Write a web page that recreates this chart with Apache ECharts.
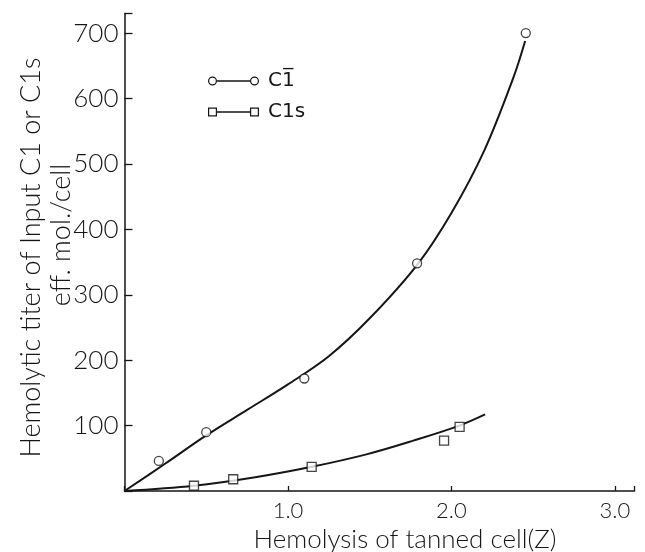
<!DOCTYPE html>
<html>
<head>
<meta charset="utf-8">
<script src="https://cdn.jsdelivr.net/npm/echarts@6/dist/echarts.min.js"></script>
<style>
  html, body { margin: 0; padding: 0; background: #fff; }
  #chart { width: 645px; height: 552px; }
</style>
</head>
<body>
<div id="chart"></div>
<script>
// Measured hemolytic titres, C1-bar (circles)
const c1ObsX = [0.21, 0.50, 1.10, 1.79, 2.455];
const c1ObsY = [46, 90, 172, 348, 700];

// Measured hemolytic titres, C1s (squares)
const c1sObsX = [0.425, 0.665, 1.145, 1.955, 2.05];
const c1sObsY = [8, 18, 37, 77, 98];

// Hand-fitted curve through the C1-bar points
const c1CurveX = [0, 0.25, 0.5, 0.75, 1.0, 1.25, 1.5, 1.794, 2.0, 2.2, 2.379, 2.451];
const c1CurveY = [0, 42, 85, 124, 163, 206, 264, 347, 425, 520, 632, 688];

// Hand-fitted curve through the C1s points
const c1sCurveX = [0, 0.425, 0.8, 1.146, 1.48, 1.767, 2.049, 2.206];
const c1sCurveY = [0, 8, 21, 37, 56, 77, 100, 117];

// Axis tick labels
const xTickLabels = ['1.0', '2.0', '3.0'];
const yTickLabels = ['100', '200', '300', '400', '500', '600', '700'];

const INK = '#161616';
const FONT = 'Lato';
const zip = (xs, ys) => xs.map((x, i) => [x, ys[i]]);

const C1_NAME = 'C1\u0305';
const C1S_NAME = 'C1s';

// legend glyphs: open marker — line — open marker
const ringL = 'M0.5,5 A4.5,4.5 0 1 1 9.5,5 A4.5,4.5 0 1 1 0.5,5 Z M1.7,5 A3.3,3.3 0 1 0 8.3,5 A3.3,3.3 0 1 0 1.7,5 Z';
const ringR = 'M42.5,5 A4.5,4.5 0 1 1 51.5,5 A4.5,4.5 0 1 1 42.5,5 Z M43.7,5 A3.3,3.3 0 1 0 50.3,5 A3.3,3.3 0 1 0 43.7,5 Z';
const bar = 'M9.5,4.3 H42.5 V5.7 H9.5 Z';
const boxL = 'M0.5,0.5 H9.5 V9.5 H0.5 Z M1.7,1.7 V8.3 H8.3 V1.7 Z';
const boxR = 'M42.5,0.5 H51.5 V9.5 H42.5 Z M43.7,1.7 V8.3 H50.3 V1.7 Z';

const chart = echarts.init(document.getElementById('chart'), null, { renderer: 'canvas' });

chart.setOption({
  backgroundColor: '#fff',
  animation: false,
  grid: { left: 124.5, right: 10.5, top: 13.5, bottom: 61 },
  xAxis: {
    type: 'value',
    min: 0, max: 3.12, interval: 1,
    splitLine: { show: false },
    axisLine: { lineStyle: { color: INK, width: 1.5 } },
    axisTick: { inside: true, length: 5, lineStyle: { color: INK, width: 1.3 } },
    axisLabel: {
      color: INK, fontFamily: FONT, fontWeight: 300, fontSize: 22, margin: 9,
      formatter: v => (v >= 1 && v <= 3 && Number.isInteger(v)) ? xTickLabels[v - 1] : ''
    }
  },
  yAxis: {
    type: 'value',
    min: 0, max: 730, interval: 100,
    splitLine: { show: false },
    axisLine: { lineStyle: { color: INK, width: 1.5 } },
    axisTick: { inside: true, length: 8, lineStyle: { color: INK, width: 1.3 } },
    axisLabel: {
      color: INK, fontFamily: FONT, fontWeight: 300, fontSize: 26, margin: 6,
      formatter: v => v >= 100 ? yTickLabels[v / 100 - 1] : ''
    }
  },
  legend: {
    orient: 'vertical',
    left: 203, top: 64,
    itemWidth: 51, itemHeight: 9, itemGap: 7,
    itemStyle: { color: INK, borderWidth: 0 },
    textStyle: { color: INK, fontFamily: 'DejaVu Sans', fontSize: 20, lineHeight: 24, padding: [0, 0, 0, 4] },
    data: [
      { name: C1_NAME, icon: 'path://' + ringL + ' ' + bar + ' ' + ringR },
      { name: C1S_NAME, icon: 'path://' + boxL + ' ' + bar + ' ' + boxR }
    ]
  },
  graphic: [
    {
      type: 'text', x: 31.5, y: 257.5, rotation: Math.PI / 2,
      style: { text: 'Hemolytic titer of Input C1 or C1s', fill: INK, fontFamily: FONT, fontWeight: 300, fontSize: 27, align: 'center', verticalAlign: 'middle' }
    },
    {
      type: 'text', x: 61, y: 235, rotation: Math.PI / 2,
      style: { text: 'eff. mol./cell', fill: INK, fontFamily: FONT, fontWeight: 300, fontSize: 27, align: 'center', verticalAlign: 'middle' }
    },
    {
      type: 'text', x: 405, y: 540,
      style: { text: 'Hemolysis of tanned cell(Z)', fill: INK, fontFamily: FONT, fontWeight: 300, fontSize: 26, align: 'center', verticalAlign: 'middle' }
    }
  ],
  series: [
    {
      name: C1_NAME, type: 'line', smooth: 0.35, showSymbol: false, symbol: 'none',
      color: INK, lineStyle: { color: INK, width: 2 }, z: 2,
      data: zip(c1CurveX, c1CurveY)
    },
    {
      name: C1S_NAME, type: 'line', smooth: 0.35, showSymbol: false, symbol: 'none',
      color: INK, lineStyle: { color: INK, width: 2 }, z: 2,
      data: zip(c1sCurveX, c1sCurveY)
    },
    {
      name: C1_NAME, type: 'scatter', symbol: 'circle', symbolSize: 9, z: 3,
      itemStyle: { color: '#fff', borderColor: INK, borderWidth: 1.3 },
      data: zip(c1ObsX, c1ObsY)
    },
    {
      name: C1S_NAME, type: 'scatter', symbol: 'rect', symbolSize: 9, z: 3,
      itemStyle: { color: '#fff', borderColor: INK, borderWidth: 1.3 },
      data: zip(c1sObsX, c1sObsY)
    }
  ]
});
</script>
</body>
</html>
